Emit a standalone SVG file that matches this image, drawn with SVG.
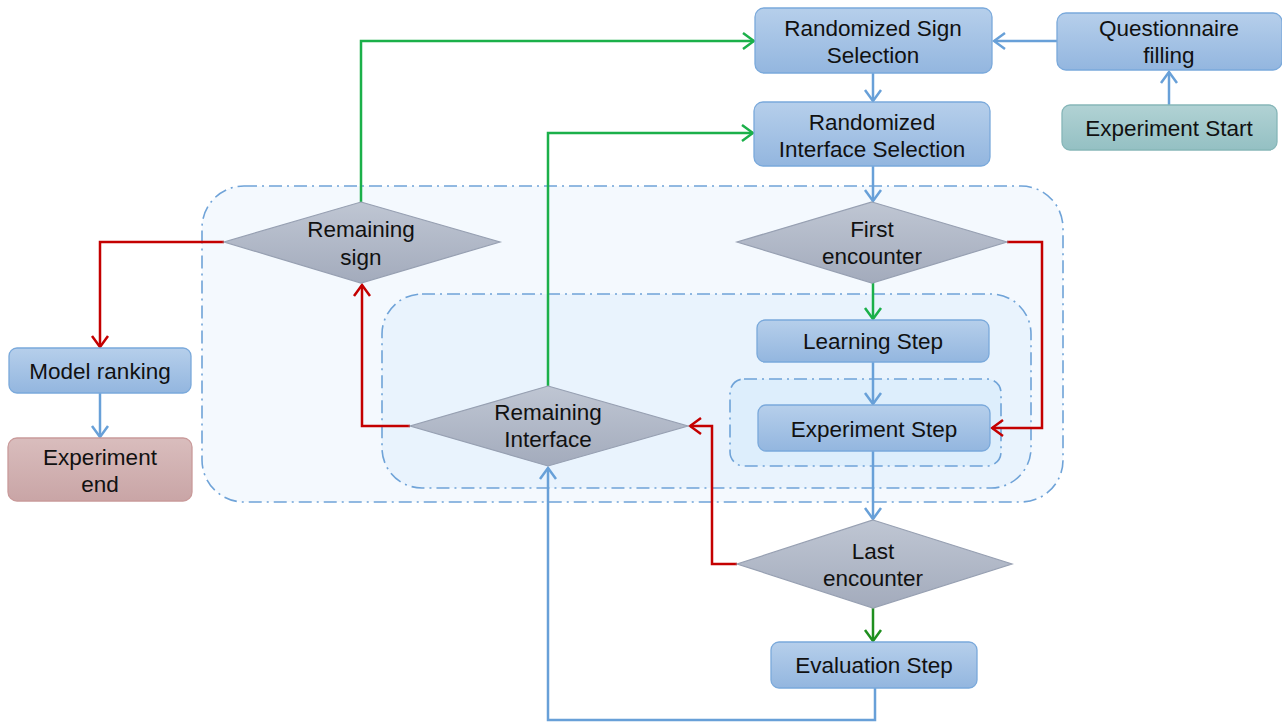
<svg xmlns="http://www.w3.org/2000/svg" width="1282" height="722" viewBox="0 0 1282 722">
<style>
text{font-family:"Liberation Sans",Arial,sans-serif;font-size:22.5px;fill:#111;text-anchor:middle}
.box{fill:url(#gBlue);stroke:#7aa9db;stroke-width:1.3}
.start{fill:url(#gTeal);stroke:#86b6b8;stroke-width:1.3}
.end{fill:url(#gPink);stroke:#c99a9a;stroke-width:1.3}
.dia{fill:url(#gGray);stroke:#97a0b2;stroke-width:1.2}
.cont{stroke:#6fa3d8;stroke-width:1.6;stroke-dasharray:13,5,2,5}
.c{fill:none;stroke-width:2.5}
.blue{stroke:#68a0d8}
.green{stroke:#1bb04a}
.dgreen{stroke:#1f8f1f}
.red{stroke:#c40000}
</style>
<defs>
<linearGradient id="gBlue" x1="0" y1="0" x2="0" y2="1"><stop offset="0" stop-color="#b6cfeb"/><stop offset="1" stop-color="#93b6df"/></linearGradient>
<linearGradient id="gTeal" x1="0" y1="0" x2="0" y2="1"><stop offset="0" stop-color="#b1d2d4"/><stop offset="1" stop-color="#94c0c3"/></linearGradient>
<linearGradient id="gPink" x1="0" y1="0" x2="0" y2="1"><stop offset="0" stop-color="#d9bdbd"/><stop offset="1" stop-color="#c9a5a6"/></linearGradient>
<linearGradient id="gGray" x1="0" y1="0" x2="0" y2="1"><stop offset="0" stop-color="#bfc6d3"/><stop offset="1" stop-color="#a3abbc"/></linearGradient>
<marker id="aBlue" markerUnits="userSpaceOnUse" markerWidth="14" markerHeight="20" viewBox="0 0 14 20" refX="12" refY="10" orient="auto"><path d="M1,2 L12,10 L1,18" fill="none" stroke="#68a0d8" stroke-width="2.5"/></marker>
<marker id="aGreen" markerUnits="userSpaceOnUse" markerWidth="14" markerHeight="20" viewBox="0 0 14 20" refX="12" refY="10" orient="auto"><path d="M1,2 L12,10 L1,18" fill="none" stroke="#1bb04a" stroke-width="2.5"/></marker>
<marker id="aDGreen" markerUnits="userSpaceOnUse" markerWidth="14" markerHeight="20" viewBox="0 0 14 20" refX="12" refY="10" orient="auto"><path d="M1,2 L12,10 L1,18" fill="none" stroke="#1f8f1f" stroke-width="2.5"/></marker>
<marker id="aRed" markerUnits="userSpaceOnUse" markerWidth="14" markerHeight="20" viewBox="0 0 14 20" refX="12" refY="10" orient="auto"><path d="M1,2 L12,10 L1,18" fill="none" stroke="#c40000" stroke-width="2.5"/></marker>
</defs>
<rect width="1282" height="722" fill="#fff"/>
<g id="containers">
<rect class="cont" x="202" y="186" width="861" height="316" rx="42" fill="#f4f9fe"/>
<rect class="cont" x="382" y="294" width="649" height="194" rx="40" fill="#e9f3fd"/>
<rect class="cont" x="730" y="379" width="271" height="87" rx="14" fill="#ddeefc"/>
</g>
<g id="connectors">
<path class="c blue" d="M1057,41 H994" marker-end="url(#aBlue)"/>
<path class="c blue" d="M1169,105 V72" marker-end="url(#aBlue)"/>
<path class="c blue" d="M873,73 V101" marker-end="url(#aBlue)"/>
<path class="c blue" d="M873,166 V201" marker-end="url(#aBlue)"/>
<path class="c green" d="M873,283 V319" marker-end="url(#aGreen)"/>
<path class="c red" d="M1007,242 H1042 V428 H992" marker-end="url(#aRed)"/>
<path class="c blue" d="M873,362 V404" marker-end="url(#aBlue)"/>
<path class="c blue" d="M873,451 V519" marker-end="url(#aBlue)"/>
<path class="c dgreen" d="M873,608 V641" marker-end="url(#aDGreen)"/>
<path class="c blue" d="M875,688 V720 H548 V468" marker-end="url(#aBlue)"/>
<path class="c red" d="M737,564 H712 V426 H690" marker-end="url(#aRed)"/>
<path class="c red" d="M410,426 H362 V285" marker-end="url(#aRed)"/>
<path class="c green" d="M548,386 V133 H753" marker-end="url(#aGreen)"/>
<path class="c green" d="M361,202 V41 H754" marker-end="url(#aGreen)"/>
<path class="c red" d="M224,242 H100 V347" marker-end="url(#aRed)"/>
<path class="c blue" d="M100,393 V437" marker-end="url(#aBlue)"/>
</g>
<g id="rss"><rect class="box" x="755" y="8" width="237" height="65" rx="9"/><text x="873" y="36">Randomized Sign</text><text x="873" y="63">Selection</text></g>
<g id="questionnaire"><rect class="box" x="1057" y="13" width="225" height="57" rx="9"/><text x="1169" y="36">Questionnaire</text><text x="1169" y="63">filling</text></g>
<g id="start"><rect class="start" x="1062" y="105" width="215" height="45" rx="8"/><text x="1169" y="136">Experiment Start</text></g>
<g id="ris"><rect class="box" x="754" y="102" width="236" height="64" rx="9"/><text x="872" y="130">Randomized</text><text x="872" y="157">Interface Selection</text></g>
<g id="remsign"><polygon class="dia" points="361,202 500,242 361,283 224,242"/><text x="361" y="237">Remaining</text><text x="361" y="265">sign</text></g>
<g id="first"><polygon class="dia" points="872,202 1007,242 872,283 737,242"/><text x="872" y="237">First</text><text x="872" y="264">encounter</text></g>
<g id="learning"><rect class="box" x="757" y="320" width="232" height="42" rx="8"/><text x="873" y="349">Learning Step</text></g>
<g id="experiment"><rect class="box" x="758" y="405" width="232" height="46" rx="8"/><text x="874" y="437">Experiment Step</text></g>
<g id="reminterface"><polygon class="dia" points="548,386 688,426 548,466 410,426"/><text x="548" y="420">Remaining</text><text x="548" y="447">Interface</text></g>
<g id="last"><polygon class="dia" points="873,520 1012,564 873,608 737,564"/><text x="873" y="559">Last</text><text x="873" y="586">encounter</text></g>
<g id="evaluation"><rect class="box" x="771" y="642" width="206" height="46" rx="8"/><text x="874" y="673">Evaluation Step</text></g>
<g id="ranking"><rect class="box" x="9" y="348" width="182" height="45" rx="8"/><text x="100" y="379">Model ranking</text></g>
<g id="end"><rect class="end" x="8" y="438" width="184" height="63" rx="9"/><text x="100" y="465">Experiment</text><text x="100" y="492">end</text></g>
</svg>
